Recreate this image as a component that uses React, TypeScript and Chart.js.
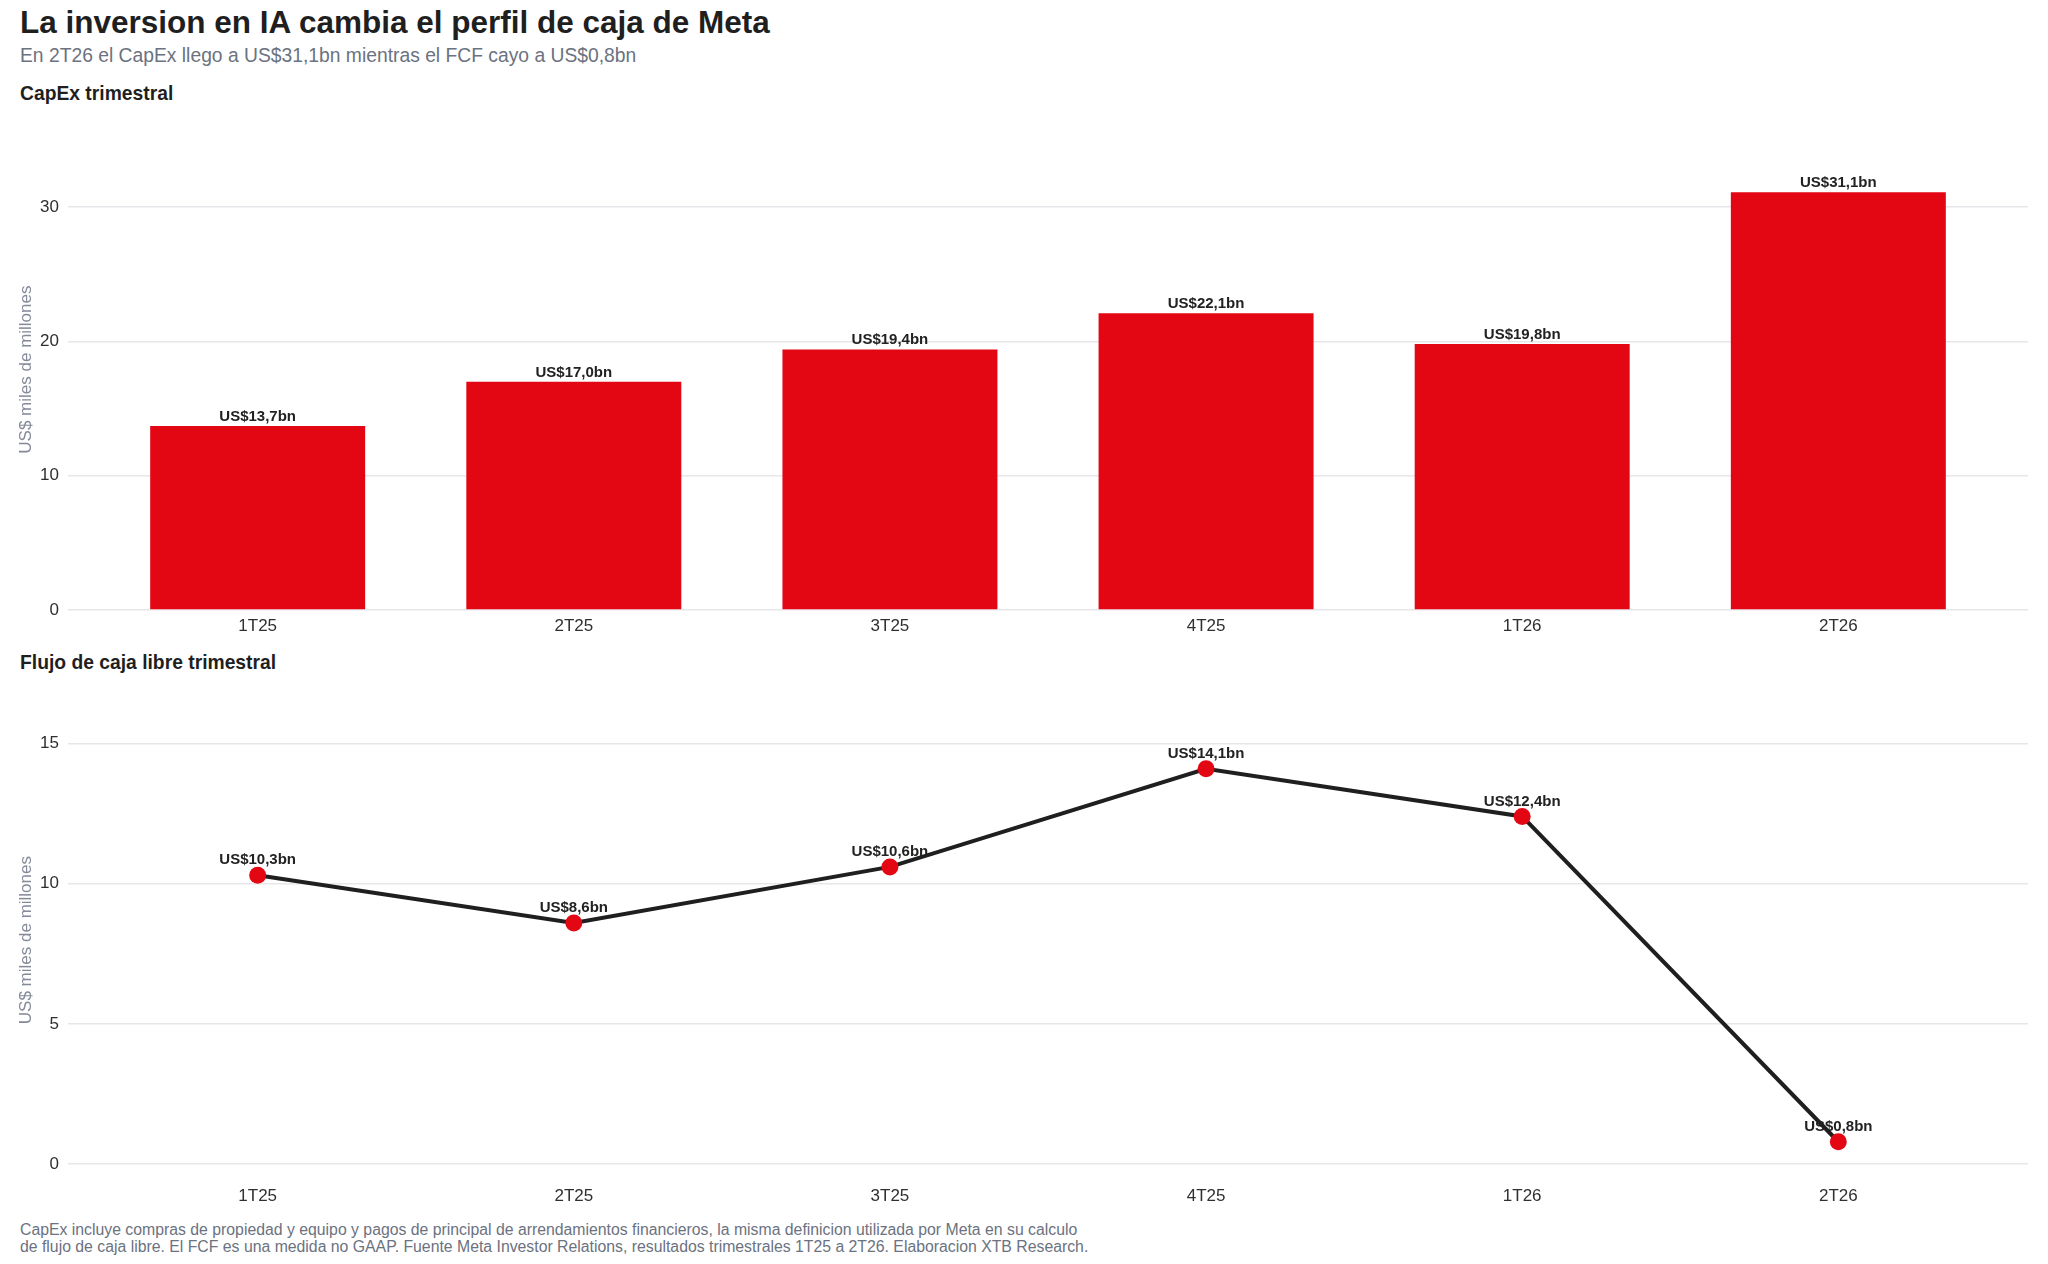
import React, { useEffect, useRef } from "react";
import { Chart, registerables } from "chart.js";

Chart.register(...registerables);

const categories = ["1T25", "2T25", "3T25", "4T25", "1T26", "2T26"];
const capexValues = [13.7, 17.0, 19.4, 22.1, 19.8, 31.1];
const fcfValues = [10.3, 8.6, 10.6, 14.1, 12.4, 0.8];
const capexTicks = [0, 10, 20, 30];
const fcfTicks = [0, 5, 10, 15];

const FONT = '"Liberation Sans", Arial, Helvetica, sans-serif';
const RED = "#e30613";
const TICK_COLOR = "#2f2f2f";
const GRID_COLOR = "#e7e7eb";
const AXIS_TITLE_COLOR = "#858a99";

const fmt = (v: number) => `US$${v.toFixed(1).replace(".", ",")}bn`;

function xScale(height: number, padding: number) {
  return {
    type: "linear" as const,
    min: -0.6,
    max: 5.6,
    offset: false,
    bounds: "data" as const,
    afterBuildTicks: (s: any) => {
      s.ticks = categories.map((_, i) => ({ value: i }));
    },
    afterFit: (s: any) => {
      s.height = height;
    },
    grid: { display: false, drawTicks: false, offset: false },
    border: { display: false },
    ticks: {
      padding,
      autoSkip: false,
      maxRotation: 0,
      color: TICK_COLOR,
      font: { family: FONT, size: 17 },
      callback: (v: any) => categories[v as number] ?? "",
    },
  };
}

function yScale(min: number, max: number, tickVals: number[]) {
  return {
    min,
    max,
    bounds: "data" as const,
    afterBuildTicks: (s: any) => {
      s.ticks = tickVals.map((v) => ({ value: v }));
    },
    afterFit: (s: any) => {
      s.width = 68;
    },
    grid: { color: GRID_COLOR, lineWidth: 1.5, drawTicks: false },
    border: { display: false },
    ticks: {
      padding: 9,
      color: TICK_COLOR,
      font: { family: FONT, size: 17 },
    },
    title: {
      display: true,
      text: "US$ miles de millones",
      color: AXIS_TITLE_COLOR,
      font: { family: FONT, size: 17 },
      padding: { top: 16, bottom: 0 },
    },
  };
}

const barLabelPlugin = {
  id: "barLabels",
  afterDatasetsDraw(chart: any) {
    const ctx = chart.ctx;
    const meta = chart.getDatasetMeta(0);
    ctx.save();
    ctx.font = `bold 15px ${FONT}`;
    ctx.fillStyle = "#222222";
    ctx.textAlign = "center";
    ctx.textBaseline = "alphabetic";
    meta.data.forEach((el: any, i: number) => {
      ctx.fillText(fmt(capexValues[i]), el.x, el.y - 5);
    });
    ctx.restore();
  },
};

const lineLabelPlugin = {
  id: "lineLabels",
  beforeDatasetsDraw(chart: any) {
    const ctx = chart.ctx;
    const meta = chart.getDatasetMeta(0);
    ctx.save();
    ctx.font = `bold 15px ${FONT}`;
    ctx.fillStyle = "#222222";
    ctx.textAlign = "center";
    ctx.textBaseline = "middle";
    meta.data.forEach((el: any, i: number) => {
      ctx.fillText(fmt(fcfValues[i]), el.x, el.y - 15);
    });
    ctx.restore();
  },
};

export default function App() {
  const ref1 = useRef<HTMLCanvasElement>(null);
  const ref2 = useRef<HTMLCanvasElement>(null);

  useEffect(() => {
    document.body.style.margin = "0";
    const c1 = new Chart(ref1.current!, {
      type: "bar",
      data: {
        datasets: [
          {
            data: capexValues.map((v, i) => ({ x: i, y: v })),
            backgroundColor: RED,
            borderWidth: 0,
            barPercentage: 0.68,
            categoryPercentage: 1,
          },
        ],
      },
      options: {
        responsive: false,
        animation: false,
        devicePixelRatio: 1,
        layout: { padding: { top: 16, right: 20, left: 0, bottom: 0 } },
        plugins: { legend: { display: false }, tooltip: { enabled: false } },
        scales: {
          x: xScale(40, 6) as any,
          y: yScale(0, 35.8, capexTicks) as any,
        },
      },
      plugins: [barLabelPlugin],
    });

    const c2 = new Chart(ref2.current!, {
      type: "line",
      data: {
        datasets: [
          {
            data: fcfValues.map((v, i) => ({ x: i, y: v })),
            borderColor: "#1f1f1f",
            borderWidth: 4,
            tension: 0,
            pointRadius: 8.5,
            pointBackgroundColor: RED,
            pointBorderColor: RED,
            pointBorderWidth: 0,
            fill: false,
          },
        ],
      },
      options: {
        responsive: false,
        animation: false,
        devicePixelRatio: 1,
        layout: { padding: { top: 13, right: 20, left: 0, bottom: 0 } },
        plugins: { legend: { display: false }, tooltip: { enabled: false } },
        scales: {
          x: xScale(39, 5) as any,
          y: yScale(-0.6, 16.58, fcfTicks) as any,
        },
      },
      plugins: [lineLabelPlugin],
    });

    return () => {
      c1.destroy();
      c2.destroy();
    };
  }, []);

  const abs = (top: number, size: number, extra: React.CSSProperties = {}): React.CSSProperties => ({
    position: "absolute",
    left: 20,
    top,
    fontFamily: FONT,
    fontSize: size,
    lineHeight: `${size}px`,
    whiteSpace: "nowrap",
    margin: 0,
    ...extra,
  });

  return (
    <div
      style={{
        position: "relative",
        width: 2048,
        height: 1264,
        background: "#ffffff",
        overflow: "hidden",
      }}
    >
      <canvas
        ref={ref1}
        width={2048}
        height={540}
        style={{ position: "absolute", left: 0, top: 110, width: 2048, height: 540 }}
      />
      <canvas
        ref={ref2}
        width={2048}
        height={540}
        style={{ position: "absolute", left: 0, top: 680, width: 2048, height: 540 }}
      />
      <div style={abs(6.5, 31.5, { fontWeight: "bold", color: "#1f1f1f" })}>
        La inversion en IA cambia el perfil de caja de Meta
      </div>
      <div style={abs(45.5, 19.3, { color: "#6b7280" })}>
        En 2T26 el CapEx llego a US$31,1bn mientras el FCF cayo a US$0,8bn
      </div>
      <div style={abs(83.5, 19.3, { fontWeight: "bold", color: "#1f1f1f" })}>CapEx trimestral</div>
      <div style={abs(652.5, 19.3, { fontWeight: "bold", color: "#1f1f1f" })}>
        Flujo de caja libre trimestral
      </div>
      <div style={abs(1221, 15.8, { color: "#6b7280", lineHeight: "17px" })}>
        CapEx incluye compras de propiedad y equipo y pagos de principal de arrendamientos financieros, la misma
        definicion utilizada por Meta en su calculo
        <br />
        de flujo de caja libre. El FCF es una medida no GAAP. Fuente Meta Investor Relations, resultados
        trimestrales 1T25 a 2T26. Elaboracion XTB Research.
      </div>
    </div>
  );
}
